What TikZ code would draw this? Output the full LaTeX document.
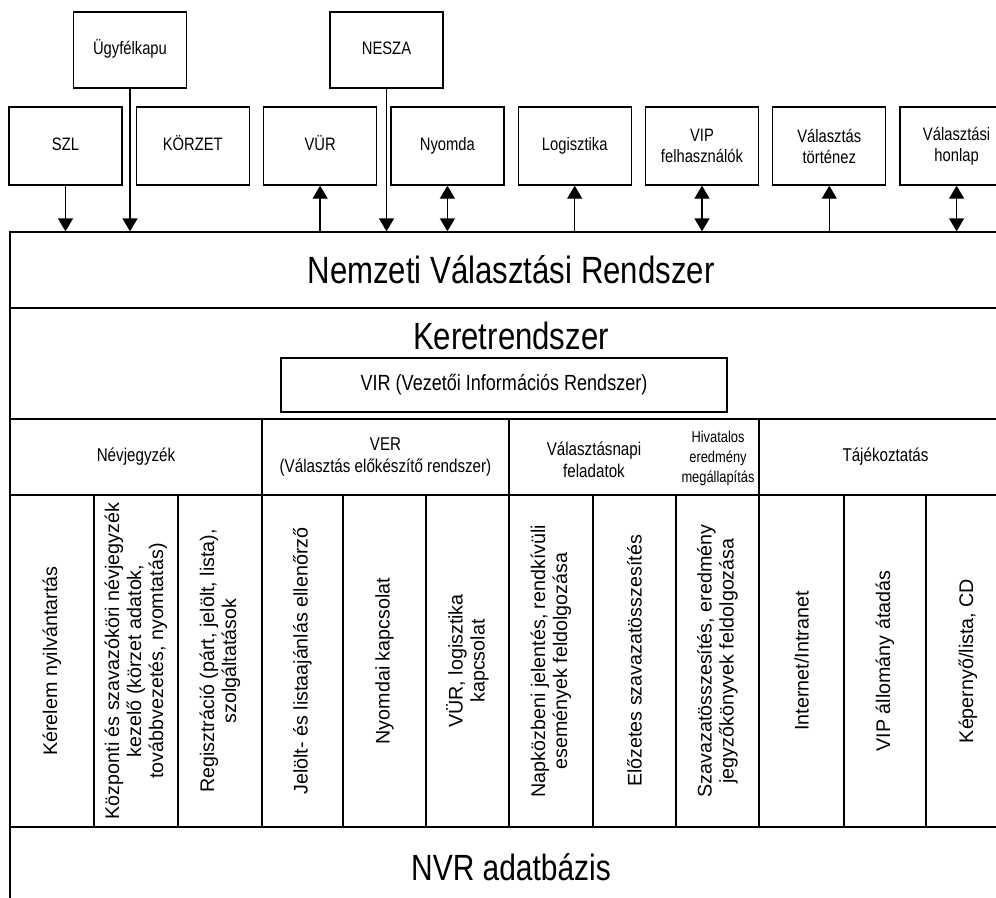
\documentclass[tikz,border=0pt]{standalone}
\usepackage{fontspec}
\setmainfont{Liberation Sans}
\newfontfamily\narrowsf[FakeStretch=0.82]{Liberation Sans}
\usepackage{tikz}
\usetikzlibrary{arrows.meta}
\usetikzlibrary{positioning}

\begin{document}
\begin{tikzpicture}
		[
		x=1pt, y=-1pt,
		line width=1.3pt,
		>={Triangle[width=15pt,length=13pt]},
		node distance=13pt
		]
		
		% Box styles: outer systems, titles and table cells
		\tikzstyle{outer box}=[draw,minimum width=113,minimum height=78,align=center,inner sep=2,font=\narrowsf\fontsize{18}{21}\selectfont];
		\tikzstyle{one line}=[text height=13,text depth=4];
		\tikzstyle{big title}=[font=\narrowsf\fontsize{38}{40}\selectfont];
		\tikzstyle{head cell}=[draw,minimum height=76,align=center,font=\narrowsf\fontsize{18.5}{22}\selectfont];
		\tikzstyle{small head}=[align=center,font=\narrowsf\fontsize{15.7}{20}\selectfont];
		\tikzstyle{task cell}=[draw,rotate=90,minimum width=332,minimum height=84,inner sep=0,align=center,font=\fontsize{19.7}{22}\selectfont];
		
		\useasboundingbox (0,0) rectangle (996,897);
		\clip (0,0) rectangle (996,897);
		
		% Outer systems, upper row
		\node[outer box,one line,minimum height=76](ugyfel) at (130,50) {Ügyfélkapu};
		\node[outer box,one line,minimum height=76](nesza) at (386.5,50) {NESZA};
		
		% Outer systems, lower row
		\node[outer box,one line](szl) at (65.5,146) {SZL};
		\node[outer box,one line,right=of szl](korzet) {KÖRZET};
		\node[outer box,one line,right=of korzet](vur) {VÜR};
		\node[outer box,one line,right=of vur](nyomda) {Nyomda};
		\node[outer box,one line,right=of nyomda](logiszt) {Logisztika};
		\node[outer box,right=of logiszt](vip) {VIP\\felhasználók};
		\node[outer box,right=of vip](tortenet) {Választás\\történez};
		\node[outer box,right=of tortenet](honlap) {Választási\\honlap};
		
		% The frame of the system
		\node[draw,big title,minimum width=1002,minimum height=76](nvr) at (511,270) {Nemzeti Választási Rendszer};
		\node[draw,minimum width=1002,minimum height=111](keret) at (511,363.5) {};
		\node[big title](kertitle) at (511,336) {Keretrendszer};
		\node[draw,minimum width=446,minimum height=54,font=\narrowsf\fontsize{22}{24}\selectfont](vir) at (504,385) {VIR (Vezetői Információs Rendszer)};
		
		% Header row
		\node[head cell,minimum width=252](nevj) at (136,457) {Névjegyzék};
		\node[head cell,minimum width=247](ver) at (385.5,457) {VER\\(Választás előkészítő rendszer)};
		\node[head cell,minimum width=250](napi) at (634,457) {};
		\node[head cell,minimum width=253](tajek) at (885.5,457) {Tájékoztatás};
		\node[head cell,draw=none](napitext) at (594,460) {Választásnapi\\feladatok};
		\node[small head](hivatalos) at (718,458) {Hivatalos\\eredmény\\megállapítás};
		
		% Task columns
		\node[task cell,minimum height=84](c1) at (52,661) {Kérelem nyilvántartás};
		\node[task cell,minimum height=84](c2) at (136,661) {Központi és szavazóköri névjegyzék\\kezelő (körzet adatok,\\továbbvezetés, nyomtatás)};
		\node[task cell,minimum height=84](c3) at (220,661) {Regisztráció (párt, jelölt, lista),\\szolgáltatások};
		\node[task cell,minimum height=81](c4) at (302.5,661) {Jelölt- és listaajánlás ellenőrző};
		\node[task cell,minimum height=83](c5) at (384.5,661) {Nyomdai kapcsolat};
		\node[task cell,minimum height=83](c6) at (467.5,661) {VÜR, logisztika\\kapcsolat};
		\node[task cell,minimum height=84](c7) at (551,661) {Napközbeni jelentés, rendkívüli\\események feldolgozása};
		\node[task cell,minimum height=83](c8) at (634.5,661) {Előzetes szavazatösszesítés};
		\node[task cell,minimum height=83](c9) at (717.5,661) {Szavazatösszesítés, eredmény\\jegyzőkönyvek feldolgozása};
		\node[task cell,minimum height=85](c10) at (801.5,661) {Internet/Intranet};
		\node[task cell,minimum height=82](c11) at (885,661) {VIP állomány átadás};
		\node[task cell,minimum height=84](c12) at (968,661) {Képernyő/lista, CD};
		
		% Database
		\node[draw,minimum width=1002,minimum height=140](dbframe) at (511,897) {};
		\node[big title,font=\narrowsf\fontsize{36.5}{40}\selectfont](db) at (511,867) {NVR adatbázis};
		
		% Data flows
		\draw[->](ugyfel)--(ugyfel |- nvr.north);
		\draw[->](nesza)--(nesza |- nvr.north);
		\draw[->](szl)--(szl |- nvr.north);
		\draw[<-](vur)--(vur |- nvr.north);
		\draw[<->](nyomda)--(nyomda |- nvr.north);
		\draw[<-](logiszt)--(logiszt |- nvr.north);
		\draw[<->](vip)--(vip |- nvr.north);
		\draw[<-](tortenet)--(tortenet |- nvr.north);
		\draw[<->](honlap)--(honlap |- nvr.north);
		\end{tikzpicture}
\end{document}
